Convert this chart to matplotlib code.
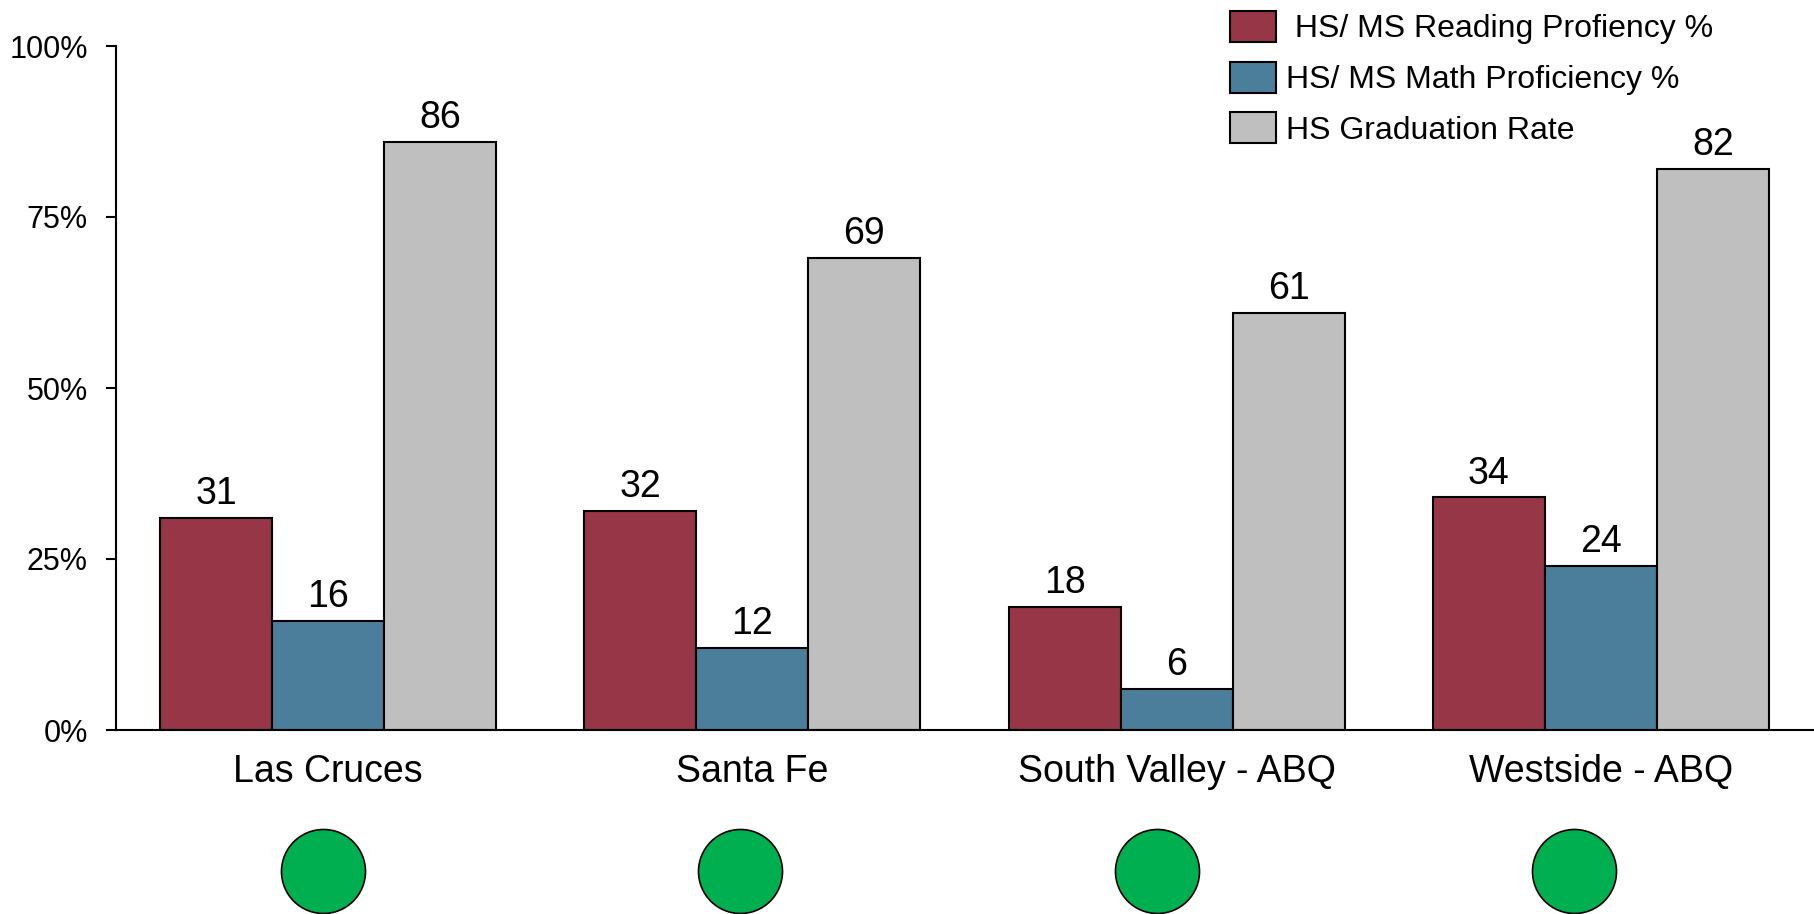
import numpy as np
import matplotlib
matplotlib.use("Agg")
import matplotlib.pyplot as plt

plt.rcParams['font.family'] = ['Liberation Sans', 'DejaVu Sans']

# Data
categories = ["Las Cruces", "Santa Fe", "South Valley - ABQ", "Westside - ABQ"]
series_names = [" HS/ MS Reading Profiency %", "HS/ MS Math Proficiency %", "HS Graduation Rate"]
reading = [31, 32, 18, 34]
math_prof = [16, 12, 6, 24]
graduation = [86, 69, 61, 82]
ytick_values = [0, 25, 50, 75, 100]

colors = ["#963646", "#4B7E9B", "#BFBFBF"]
status_color = "#00B050"

fig = plt.figure(figsize=(18.14, 9.14), dpi=100)
ax = fig.add_axes([116 / 1814, 1 - 730 / 914, 1697 / 1814, 684 / 914])

x = np.arange(len(categories))
w = 0.264
series = [reading, math_prof, graduation]
for i, (vals, name, col) in enumerate(zip(series, series_names, colors)):
    pos = x + (i - 1) * w
    bars = ax.bar(pos, vals, width=w, color=col, edgecolor="black",
                  linewidth=1.5, label=name, zorder=2)
    for b, v in zip(bars, vals):
        ax.annotate(f"{v}", (b.get_x() + b.get_width() / 2, v),
                    xytext=(0, 10), textcoords="offset points",
                    ha="center", va="baseline", fontsize=27)

ax.set_xlim(-0.5, len(categories) - 0.5)
ax.set_ylim(0, 100)
ax.set_yticks(ytick_values)
ax.set_yticklabels([f"{v}%" for v in ytick_values])
ax.set_xticks(x)
ax.set_xticklabels(categories)

ax.tick_params(axis="y", length=7.2, width=1.5, pad=13, labelsize=22, direction="out")
ax.tick_params(axis="x", length=0, pad=17, labelsize=27)

for s in ("top", "right"):
    ax.spines[s].set_visible(False)
for s in ("left", "bottom"):
    ax.spines[s].set_linewidth(1.5)

# Status indicators: a row of evenly spaced green dots below the district names
dot_x = 0.178 + np.arange(len(categories)) * 0.2299
for dx in dot_x:
    fig.add_artist(plt.Line2D([dx], [1 - 871 / 914], linestyle="none", marker="o",
                              markersize=60.5, markerfacecolor=status_color,
                              markeredgecolor="black", markeredgewidth=1.2,
                              transform=fig.transFigure))

leg = fig.legend(loc="upper left", bbox_to_anchor=(1230 / 1814, 1 - 11 / 914),
                 frameon=False, fontsize=23, borderpad=0, borderaxespad=0,
                 handlelength=1.44, handleheight=1.12, handletextpad=0.3,
                 labelspacing=0.54)

fig.savefig("out.png", dpi=100)
